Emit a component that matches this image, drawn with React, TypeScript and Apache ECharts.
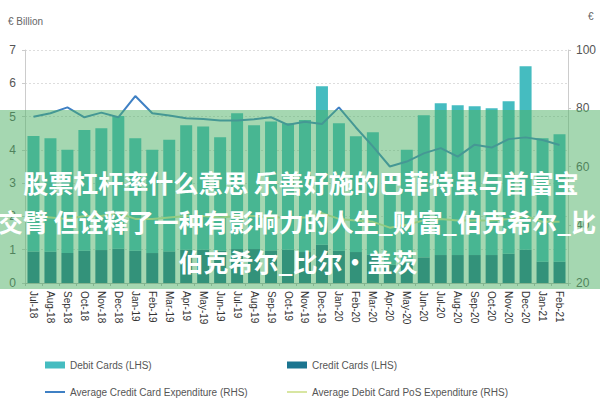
import React, { useEffect, useRef } from "react";
import * as echarts from "echarts";

const categories = [
  "Jul-18", "Aug-18", "Sep-18", "Oct-18", "Nov-18", "Dec-18",
  "Jan-19", "Feb-19", "Mar-19", "Apr-19", "May-19", "Jun-19",
  "Jul-19", "Aug-19", "Sep-19", "Oct-19", "Nov-19", "Dec-19",
  "Jan-20", "Feb-20", "Mar-20", "Apr-20", "May-20", "Jun-20",
  "Jul-20", "Aug-20", "Sep-20", "Oct-20", "Nov-20", "Dec-20",
  "Jan-21", "Feb-21",
];

// Credit Cards (LHS), € billion
const creditCards = [
  0.95, 0.94, 0.9, 0.97, 0.99, 1.03,
  0.97, 0.9, 0.95, 1.0, 1.0, 0.97,
  1.02, 1.02, 0.98, 1.0, 0.93, 1.15,
  0.97, 0.93, 0.85, 0.55, 0.62, 0.77,
  0.84, 0.84, 0.84, 0.84, 0.88, 1.0,
  0.64, 0.64,
];

// Debit Cards (LHS), € billion (stacked on top of credit)
const debitCards = [
  3.47, 3.41, 3.1, 3.63, 3.66, 3.99,
  3.38, 3.1, 3.35, 3.74, 3.7, 3.41,
  4.08, 3.72, 3.87, 3.8, 3.97, 4.76,
  3.83, 3.48, 3.68, 2.75, 3.38, 4.27,
  4.56, 4.5, 4.47, 4.41, 4.58, 5.51,
  3.71, 3.83,
];

// Average Credit Card Expenditure (RHS), €
const avgCreditExp = [
  77.1, 78.3, 80.3, 76.9, 78.5, 76.9,
  84.2, 78.3, 77.5, 76.6, 76.3, 75.8,
  75.8, 76.2, 76.9, 74.3, 75.4, 74.6,
  80.3, 73.4, 66.9, 60.0, 61.7, 64.5,
  66.3, 63.4, 67.5, 66.5, 69.4, 70.0,
  69.1, 67.4,
];

// Average Debit Card PoS Expenditure (RHS), €
const avgDebitPosExp = [
  43, 42.5, 42, 43, 43, 44,
  42, 42, 42.5, 43, 43, 42.5,
  43, 43, 42.5, 42.5, 42.5, 44,
  42, 41.5, 41, 39, 40, 41.5,
  42, 41.5, 41.5, 41.5, 42, 43,
  41, 41,
];

const leftTicks = { min: 0, max: 7, interval: 1 };
const rightTicks = { min: 20, max: 100, interval: 20 };

const overlayLines = [
  "股票杠杆率什么意思 乐善好施的巴菲特虽与首富宝",
  "交臂 但诠释了一种有影响力的人生_财富_伯克希尔_比",
  "伯克希尔_比尔·盖茨",
];

const narrow = '"Liberation Sans Narrow", "Liberation Sans", sans-serif';

export default function App() {
  const ref = useRef<HTMLDivElement>(null);

  useEffect(() => {
    if (!ref.current) return;
    const chart = echarts.init(ref.current, undefined, { renderer: "svg" });

    const legendText = { color: "#555", fontSize: 10, fontFamily: narrow };

    const option: any = {
      animation: false,
      backgroundColor: "#fff",
      grid: { left: 25, right: 32, top: 50, bottom: 117 },
      legend: [
        {
          data: ["Debit Cards (LHS)"], left: 40, top: 355, itemWidth: 20, itemHeight: 7,
          icon: "rect", textStyle: legendText,
        },
        {
          data: ["Credit Cards (LHS)"], left: 282, top: 355, itemWidth: 20, itemHeight: 7,
          icon: "rect", textStyle: legendText,
        },
        {
          data: ["Average Credit Card Expenditure (RHS)"], left: 40, top: 382, itemWidth: 20, itemHeight: 2,
          icon: "rect", textStyle: legendText,
        },
        {
          data: ["Average Debit Card PoS Expenditure (RHS)"], left: 282, top: 382, itemWidth: 20, itemHeight: 2,
          icon: "rect", textStyle: legendText,
        },
      ],
      xAxis: {
        type: "category",
        data: categories,
        axisLine: { lineStyle: { color: "#bbb" } },
        axisTick: { show: true, lineStyle: { color: "#bbb" }, length: 3 },
        axisLabel: {
          rotate: -90, color: "#333", fontSize: 10, fontFamily: narrow, margin: 8, interval: 0,
        },
      },
      yAxis: [
        {
          type: "value",
          min: leftTicks.min, max: leftTicks.max, interval: leftTicks.interval,
          axisLine: { show: true, lineStyle: { color: "#ccc" } },
          axisTick: { show: true, length: 3, lineStyle: { color: "#ccc" } },
          axisLabel: { color: "#555", fontSize: 12, fontFamily: narrow, margin: 9 },
          splitLine: { show: true, lineStyle: { color: "#ddd", type: [2, 2] } },
        },
        {
          type: "value",
          min: rightTicks.min, max: rightTicks.max, interval: rightTicks.interval,
          position: "right",
          axisLine: { show: true, lineStyle: { color: "#ccc" } },
          axisTick: { show: true, length: 3, lineStyle: { color: "#ccc" } },
          axisLabel: { color: "#555", fontSize: 12, fontFamily: narrow, margin: 8 },
          splitLine: { show: false },
        },
      ],
      series: [
        {
          name: "Credit Cards (LHS)", type: "bar", stack: "cards", data: creditCards,
          barWidth: 12, itemStyle: { color: "#1b7590" }, z: 2,
        },
        {
          name: "Debit Cards (LHS)", type: "bar", stack: "cards", data: debitCards,
          barWidth: 12, itemStyle: { color: "#45bcc0" }, z: 2,
        },
        {
          name: "Average Credit Card Expenditure (RHS)", type: "line", yAxisIndex: 1,
          data: avgCreditExp, symbol: "none", lineStyle: { color: "#3f80c4", width: 2 },
          itemStyle: { color: "#3f80c4" }, z: 3,
        },
        {
          name: "Average Debit Card PoS Expenditure (RHS)", type: "line", yAxisIndex: 1,
          data: avgDebitPosExp, symbol: "none", lineStyle: { color: "#d8e6a2", width: 2 },
          itemStyle: { color: "#d8e6a2" }, z: 3,
        },
      ],
      graphic: [
        {
          type: "text", left: 8, top: 16, z: 10,
          style: { text: "€ Billion", fill: "#666", fontSize: 10, fontFamily: narrow },
        },
        {
          type: "text", left: 588, top: 11, z: 10,
          style: { text: "€", fill: "#666", fontSize: 10, fontFamily: narrow },
        },
        {
          type: "rect", z: 100, silent: true,
          shape: { x: 0, y: 110, width: 600, height: 179 },
          style: { fill: "rgba(76,175,100,0.5)" },
        },
        {
          type: "text", z: 101, x: 301, y: 182,
          style: {
            text: overlayLines[0], fill: "#fff", fontSize: 25, fontWeight: "bold",
            fontFamily: '"Noto Sans CJK SC", sans-serif', align: "center", verticalAlign: "middle",
          },
        },
        {
          type: "text", z: 101, x: -2, y: 221,
          style: {
            text: overlayLines[1], fill: "#fff", fontSize: 25, fontWeight: "bold",
            fontFamily: '"Noto Sans CJK SC", sans-serif', align: "left", verticalAlign: "middle",
          },
        },
        {
          type: "text", z: 101, x: 298, y: 261,
          style: {
            text: overlayLines[2], fill: "#fff", fontSize: 25, fontWeight: "bold",
            fontFamily: '"Noto Sans CJK SC", sans-serif', align: "center", verticalAlign: "middle",
          },
        },
      ],
    };

    chart.setOption(option);
    return () => chart.dispose();
  }, []);

  return (
    <div
      ref={ref}
      style={{ position: "fixed", left: 0, top: 0, width: 600, height: 400, overflow: "hidden" }}
    />
  );
}
